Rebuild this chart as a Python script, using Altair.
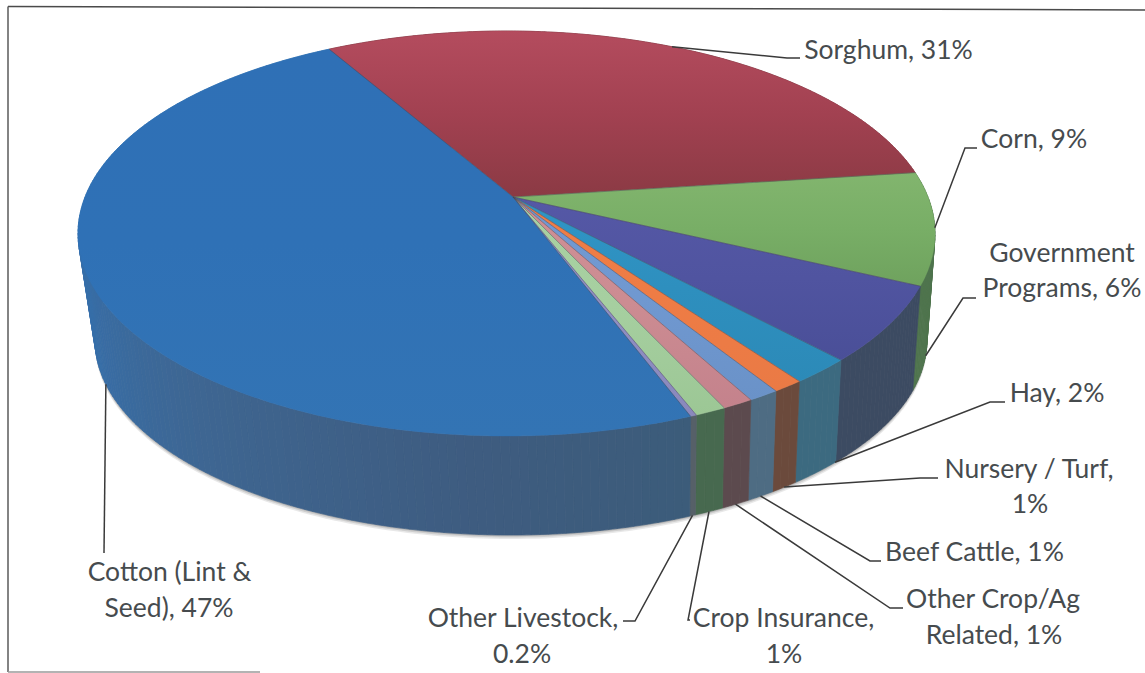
import numpy as np
import altair as alt

# Slice values, clockwise from the Sorghum/Cotton boundary
categories = ["Sorghum", "Corn", "Government Programs", "Hay", "Nursery / Turf",
              "Beef Cattle", "Other Crop/Ag Related", "Crop Insurance",
              "Other Livestock", "Cotton (Lint & Seed)"]
shares = [31, 9, 6, 2, 1, 1, 1, 1, 0.2, 47]
value_text = ["31%", "9%", "6%", "2%", "1%", "1%", "1%", "1%", "0.2%", "47%"]

# Top-face gradient stops and side-wall colours per slice
top_colors = [["#b44c5e", "#a24151", "#8b3a44"], ["#82b56e", "#78ae66", "#6fa25e"],
              ["#5558a6", "#5054a0", "#4a4f98"], ["#2f95c6", "#2e8fbe", "#2c8ab8"],
              ["#ef7e47", "#ee7c45", "#ea7a45"], ["#7299d2", "#7098d0", "#6a92c8"],
              ["#cf8f95", "#cc8c92", "#c4828c"], ["#a8d0a2", "#a6cfa0", "#9cc795"],
              ["#9090c4", "#8f8fc4", "#8a88bc"], ["#2f70b6", "#2f71b6", "#3374b4"]]
side_colors = ["#7a3640", "#4f744d", "#3c4b62", "#3c6a80", "#6b4a3c",
               "#4e6c83", "#5c4a4e", "#47694f", "#566068", None]

# Cotton's wall lightens towards the left edge (angle in degrees, colour)
cotton_wall_angles = [159, 185, 220, 250, 272, 330]
cotton_wall_rgb = [(60, 92, 122), (62, 92, 128), (62, 102, 146),
                   (55, 110, 168), (50, 114, 176), (50, 114, 176)]

# Pie geometry in pixels: rim ellipses and where the hub falls inside them
START_ANGLE = 330.0
TOP = dict(cx=506.5, cy=233.5, a=428.5, b=202.5)
BOTTOM = dict(cx=511.0, cy=340.0, a=416.0, b=195.0)
HUB = ((513 - TOP["cx"]) / TOP["a"], (197 - TOP["cy"]) / TOP["b"])


def tilt(angle_deg):
    """Perspective map from a pie angle to a point on the unit rim."""
    th = np.radians(np.asarray(angle_deg, dtype=float))
    u, v = np.sin(th), -np.cos(th)
    px, py = HUB
    n2 = px * px + py * py
    g = 1 / np.sqrt(1 - n2)
    dot = px * u + py * v
    t = g * (1 + dot)
    k = (g - 1) * dot / n2 + g
    return (u + k * px) / t, (v + k * py) / t


def rim(angle_deg, e):
    x, y = tilt(angle_deg)
    return e["cx"] + e["a"] * x, e["cy"] + e["b"] * y


def arc_angles(a0, a1, step=1.0):
    n = max(int(abs(a1 - a0) / step), 1)
    return np.linspace(a0, a1, n + 1)


def polygon(xs, ys):
    ring = [[float(x), float(y)] for x, y in zip(xs, ys)]
    ring.append(ring[0])
    return {"type": "Polygon", "coordinates": [ring]}


def feature(geom, **props):
    return {"type": "Feature", "geometry": geom, "properties": props}


projection = alt.Projection(type="identity", scale=1, translate=[0, 0])


def geo(features):
    return alt.Chart(alt.Data(values=features)).project(**projection.to_dict())


# Slice boundaries
total = sum(shares)
spans = []
a = START_ANGLE
for s in shares:
    spans.append((a, a + s / total * 360))
    a += s / total * 360

# Soft shadow beneath the lower rim
ring_angles = arc_angles(0, 360)
shadow_layers = []
for off, op in [(4, 0.16), (2.5, 0.22), (1.2, 0.3)]:
    x, y = rim(ring_angles, BOTTOM)
    shadow_layers.append(
        geo([feature(polygon(x, y + off))]).mark_geoshape(fill="#707070", opacity=op, stroke=None)
    )

# Side wall, built from narrow strips so the shading can follow the angle
wall = []
for i, (a0, a1) in enumerate(spans):
    edges = arc_angles(a0, a1, 1.0)
    for e0, e1 in zip(edges[:-1], edges[1:]):
        seg = arc_angles(e0, e1, 0.5)
        tx, ty = rim(seg, TOP)
        bx, by = rim(seg[::-1], BOTTOM)
        if side_colors[i] is None:
            mid = ((e0 + e1) / 2) % 360
            rgb = [np.interp(mid, cotton_wall_angles, [c[k] for c in cotton_wall_rgb]) for k in range(3)]
            col = "#%02x%02x%02x" % tuple(int(round(c)) for c in rgb)
        else:
            col = side_colors[i]
        wall.append(feature(polygon(np.r_[tx, bx], np.r_[ty, by]), fill=col, rank=float(tilt((e0 + e1) / 2)[1])))
wall.sort(key=lambda f: f["properties"]["rank"])
wall_layer = geo(wall).mark_geoshape(strokeWidth=0.7).encode(
    fill=alt.Color("properties.fill:N", scale=None),
    stroke=alt.Color("properties.fill:N", scale=None),
)

# Top face, one wedge per slice
hub_x = TOP["cx"] + TOP["a"] * HUB[0]
hub_y = TOP["cy"] + TOP["b"] * HUB[1]
top_layers = []
seams = []
for (a0, a1), stops in zip(spans, top_colors):
    seg = arc_angles(a0, a1, 0.5)
    x, y = rim(seg, TOP)
    wedge = polygon(np.r_[hub_x, x], np.r_[hub_y, y])
    grad = alt.Gradient(
        gradient="linear", x1=0, x2=0, y1=0, y2=1,
        stops=[alt.GradientStop(color=stops[0], offset=0),
               alt.GradientStop(color=stops[1], offset=0.5),
               alt.GradientStop(color=stops[2], offset=1)],
    )
    top_layers.append(geo([feature(wedge)]).mark_geoshape(fill=grad, stroke=stops[1], strokeWidth=0.4))
    ex, ey = rim(a0, TOP)
    seams.append(feature({"type": "LineString",
                          "coordinates": [[float(hub_x), float(hub_y)], [float(ex), float(ey)]]}))
seam_layer = geo(seams).mark_geoshape(filled=False, stroke="#4a4654", strokeWidth=0.8, opacity=0.55)

# Leader lines: anchor follows the slice's middle angle; the elbow and tail are layout
leader_layout = {
    "Sorghum": (0, 0.0, (787, 58), (800, 58)),
    "Corn": (0, 0.0, (965, 148), (977, 148)),
    "Government Programs": (-21, 1.0, (963, 298), (976, 298)),
    "Hay": (-3.5, 1.0, (990, 402), (1005, 402)),
    "Nursery / Turf": (0, 1.0, (920, 478), (938, 478)),
    "Beef Cattle": (0, 1.0, (870, 561), (881, 561)),
    "Other Crop/Ag Related": (0, 1.0, (890, 608), (903, 608)),
    "Crop Insurance": (0, 1.0, (688, 620), (690, 620)),
    "Other Livestock": (0, 1.0, (635, 621), (623, 621)),
    "Cotton (Lint & Seed)": (2.5, 1.0, (104, 553), (104, 553)),
}
leader_rows = []
for name, (a0, a1) in zip(categories, spans):
    nudge, depth, elbow, tail = leader_layout[name]
    mid = (a0 + a1) / 2 + nudge
    tx, ty = rim(mid, TOP)
    bx, by = rim(mid, BOTTOM)
    pts = [(tx + (bx - tx) * depth, ty + (by - ty) * depth), elbow, tail]
    for i, (px, py) in enumerate(pts):
        leader_rows.append({"name": name, "i": i, "x": float(px), "y": float(py)})
leader_layer = alt.Chart(alt.Data(values=leader_rows)).mark_line(
    color="#3a3a3a", strokeWidth=1.5
).encode(
    x=alt.X("x:Q", scale=None), y=alt.Y("y:Q", scale=None),
    detail="name:N", order="i:Q",
)

# Data labels, one row per text line (text, centre x, baseline y)
label_lines = {
    "Sorghum": [("Sorghum, ", 888.5, 59)],
    "Corn": [("Corn, ", 1034, 148)],
    "Government Programs": [("Government", 1062, 262), ("Programs, ", 1062, 297)],
    "Hay": [("Hay, ", 1057, 402)],
    "Nursery / Turf": [("Nursery / Turf,", 1029, 478), ("", 1030, 513)],
    "Beef Cattle": [("Beef Cattle, ", 974.5, 561)],
    "Other Crop/Ag Related": [("Other Crop/Ag", 993, 608), ("Related, ", 994, 644)],
    "Crop Insurance": [("Crop Insurance,", 783.5, 627), ("", 784, 663)],
    "Other Livestock": [("Other Livestock,", 523, 627), ("", 522, 663)],
    "Cotton (Lint & Seed)": [("Cotton (Lint &", 169.5, 581), ("Seed), ", 169, 617)],
}
text_rows = []
for name, val in zip(categories, value_text):
    lines = label_lines[name]
    for j, (txt, x, y) in enumerate(lines):
        if j == len(lines) - 1:
            txt = txt + val
        text_rows.append({"text": txt, "x": x, "y": y})
text_layer = alt.Chart(alt.Data(values=text_rows)).mark_text(
    font="Lato", fontSize=26.5, color="#464b4e", align="center", baseline="alphabetic"
).encode(x=alt.X("x:Q", scale=None), y=alt.Y("y:Q", scale=None), text="text:N")

# Outer frame of the chart box
frame_rows = [
    {"x": 8, "y": 6.5, "x2": 1145, "y2": 10, "c": "#4a4a4a"},
    {"x": 8, "y": 6.5, "x2": 8, "y2": 672, "c": "#5a5a5a"},
    {"x": 8, "y": 672, "x2": 260, "y2": 672, "c": "#9a9a9a"},
]
frame_layer = alt.Chart(alt.Data(values=frame_rows)).mark_rule(strokeWidth=1.5).encode(
    x=alt.X("x:Q", scale=None), y=alt.Y("y:Q", scale=None),
    x2="x2:Q", y2="y2:Q", color=alt.Color("c:N", scale=None),
)

chart = alt.layer(
    *shadow_layers, wall_layer, *top_layers, seam_layer,
    leader_layer, frame_layer, text_layer,
).properties(
    width=1145, height=673, padding=0,
    autosize=alt.AutoSizeParams(type="none"),
    background="white",
).configure_view(stroke=None)

chart.save("out.html", embed_options={"renderer": "svg", "actions": False})
